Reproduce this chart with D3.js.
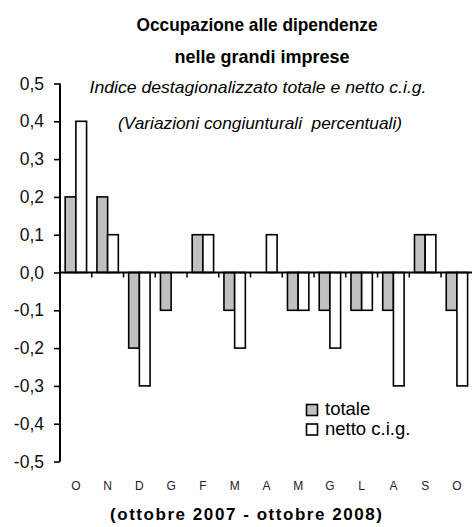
<!DOCTYPE html>
<html>
<head>
<meta charset="utf-8">
<script src="https://cdn.jsdelivr.net/npm/d3@7"></script>
<style>
  body { margin: 0; background: #fff; }
  text { font-family: "Liberation Sans", Arial, sans-serif; }
</style>
</head>
<body>
<script>
'use strict';

// months oct 2007 - oct 2008
let months = ['O', 'N', 'D', 'G', 'F', 'M', 'A', 'M', 'G', 'L', 'A', 'S', 'O'];
let totale = [0.2, 0.2, -0.2, -0.1, 0.1, -0.1, 0, -0.1, -0.1, -0.1, -0.1, 0.1, -0.1];
let netto = [0.4, 0.1, -0.3, 0, 0.1, -0.2, 0.1, -0.1, -0.2, -0.1, -0.3, 0.1, -0.3];
let yTicks = [-0.5, -0.4, -0.3, -0.2, -0.1, 0, 0.1, 0.2, 0.3, 0.4, 0.5];
let seriesNames = ['totale', 'netto c.i.g.'];
let seriesFill = ['#c0c0c0', '#ffffff'];

let width = 472;
let height = 527;

let svg = d3.select('body')
    .append('svg')
    .attr('width', width)
    .attr('height', height);

let idx = months.map((m, i) => i);

let xScale = d3.scaleBand()
    .domain(idx)
    .range([60, 472.8])
    .padding(0);

let x1 = d3.scaleBand()
    .domain([0, 1])
    .range([0, xScale.bandwidth()])
    .paddingInner(0)
    .paddingOuter(0.485);

let yScale = d3.scaleLinear()
    .domain([-0.5, 0.5])
    .range([461.5, 83.5]);

let fmt = (d) => d3.format('.1f')(d).replace('.', ',').replace('−', '-');

// titles
let titles = [
    {t: 'Occupazione alle dipendenze', x: 257, y: 31, size: 19, w: 241, weight: 'bold', style: 'normal'},
    {t: 'nelle grandi imprese', x: 262, y: 63, size: 19, w: 175, weight: 'bold', style: 'normal'},
    {t: 'Indice destagionalizzato totale e netto c.i.g.', x: 258, y: 93, size: 17, w: 337, weight: 'normal', style: 'italic'},
    {t: '(Variazioni congiunturali  percentuali)', x: 260, y: 129, size: 17, w: 284, weight: 'normal', style: 'italic'}
];
titles.forEach((d) => {
    svg.append('text')
        .attr('x', d.x)
        .attr('y', d.y)
        .attr('text-anchor', 'middle')
        .attr('textLength', d.w)
        .attr('lengthAdjust', 'spacingAndGlyphs')
        .style('font-size', d.size + 'px')
        .style('font-weight', d.weight)
        .style('font-style', d.style)
        .style('white-space', 'pre')
        .text(d.t);
});

// bars
let groups = svg.selectAll('.grp')
    .data(idx)
    .enter()
    .append('g')
    .attr('class', 'grp')
    .attr('transform', (i) => 'translate(' + xScale(i) + ',0)');

[totale, netto].forEach((vals, s) => {
    groups.filter((i) => vals[i] !== 0)
        .append('rect')
        .attr('x', x1(s))
        .attr('width', x1.bandwidth())
        .attr('y', (i) => yScale(Math.max(0, vals[i])))
        .attr('height', (i) => Math.abs(yScale(vals[i]) - yScale(0)))
        .attr('fill', seriesFill[s])
        .attr('stroke', '#000')
        .attr('stroke-width', 1.6);
});

// y axis
let yAxis = d3.axisLeft(yScale)
    .tickValues(yTicks)
    .tickSize(6)
    .tickPadding(10)
    .tickFormat(fmt);
let gy = svg.append('g')
    .attr('transform', 'translate(60,0)')
    .call(yAxis);
gy.select('.domain').remove();
gy.append('line')
    .attr('x1', 0).attr('x2', 0)
    .attr('y1', yScale(0.5)).attr('y2', yScale(-0.5))
    .attr('stroke', '#000').attr('stroke-width', 2);
gy.selectAll('.tick line').attr('stroke', '#000').attr('stroke-width', 1.6);
gy.selectAll('.tick text')
    .attr('fill', '#111')
    .style('font-size', '17.5px')
    .style('font-family', '"Liberation Sans", Arial, sans-serif');

// zero line with ticks at month boundaries
svg.append('line')
    .attr('x1', 60).attr('x2', 472)
    .attr('y1', yScale(0)).attr('y2', yScale(0))
    .attr('stroke', '#000').attr('stroke-width', 1.8);
svg.selectAll('.xtick')
    .data(idx.slice(1))
    .enter()
    .append('line')
    .attr('class', 'xtick')
    .attr('x1', (i) => xScale(i)).attr('x2', (i) => xScale(i))
    .attr('y1', yScale(0)).attr('y2', yScale(0) + 5)
    .attr('stroke', '#000').attr('stroke-width', 1.5);

// month labels
svg.selectAll('.mlab')
    .data(idx)
    .enter()
    .append('text')
    .attr('class', 'mlab')
    .attr('x', (i) => xScale(i) + xScale.bandwidth() / 2)
    .attr('y', 490)
    .attr('text-anchor', 'middle')
    .attr('fill', '#222')
    .style('font-size', '12px')
    .text((i) => months[i]);

// x label
svg.append('text')
    .attr('x', 246)
    .attr('y', 520)
    .attr('text-anchor', 'middle')
    .attr('textLength', 272)
    .attr('lengthAdjust', 'spacing')
    .style('font-size', '17px')
    .style('font-weight', 'bold')
    .text('(ottobre 2007 - ottobre 2008)');

// legend
let legend = svg.append('g').attr('transform', 'translate(306,404)');
seriesNames.forEach((n, s) => {
    legend.append('rect')
        .attr('x', 0.5)
        .attr('y', s * 19.5 + 0.5)
        .attr('width', 11)
        .attr('height', 11)
        .attr('fill', seriesFill[s])
        .attr('stroke', '#000')
        .attr('stroke-width', 1.6);
    legend.append('text')
        .attr('x', 19)
        .attr('y', s * 19.5 + 11)
        .style('font-size', '18.5px')
        .text(n);
});
</script>
</body>
</html>
